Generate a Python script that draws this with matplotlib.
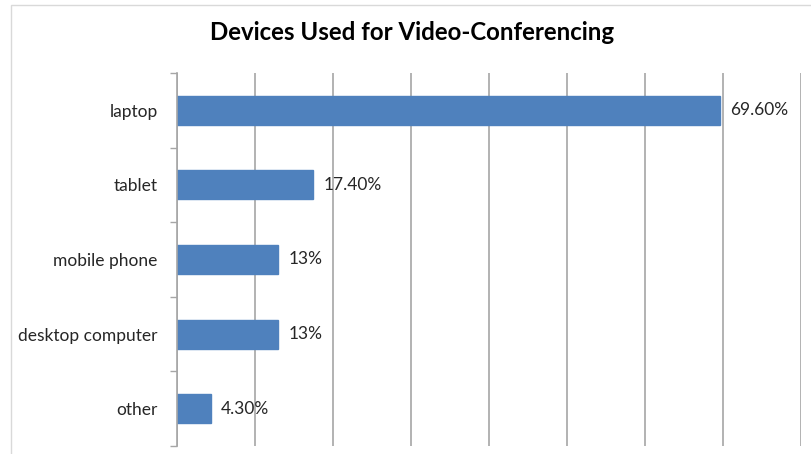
import matplotlib
matplotlib.use("Agg")
import matplotlib.pyplot as plt
from matplotlib.patches import Rectangle

categories = ["laptop", "tablet", "mobile phone", "desktop computer", "other"]
values = [69.6, 17.4, 13.0, 13.0, 4.3]
value_labels = ["69.60%", "17.40%", "13%", "13%", "4.30%"]
title = "Devices Used for Video-Conferencing"

plt.rcParams['font.family'] = ['Lato', 'DejaVu Sans']

W, H = 811, 454
fig = plt.figure(figsize=(W / 100, H / 100), dpi=100)
fig.patch.set_facecolor("white")

# outer chart border
fig.patches.append(Rectangle((11 / W, -0.05), 1.2, (1 - 5 / H) + 0.05,
                             transform=fig.transFigure, fill=False,
                             edgecolor="#d9d9d9", linewidth=1.0))

ax = fig.add_axes([177 / W, 1 - 446 / H, (801 - 177) / W, (446 - 73) / H])
n = len(categories)
pos = list(range(n))
ax.barh(pos, values, height=0.39, color="#4F81BD", edgecolor="#4F81BD", zorder=3)
ax.set_ylim(n - 0.5, -0.5)
ax.set_xlim(0, 80)
ax.set_yticks(pos)
ax.set_yticklabels(categories, fontsize=12.5, color="#262626")
ax.set_yticks([i - 0.5 for i in range(n + 1)], minor=True)
ax.tick_params(axis="y", which="major", length=0, pad=14)
ax.tick_params(axis="y", which="minor", length=5, color="#a6a6a6", width=1)
ax.set_xticks(range(0, 81, 10))
ax.tick_params(axis="x", length=0, labelbottom=False)
ax.grid(axis="x", color="#a6a6a6", linewidth=1.2, zorder=0)
for s in ["top", "right", "bottom"]:
    ax.spines[s].set_visible(False)
ax.spines["left"].set_color("#a6a6a6")
ax.spines["left"].set_linewidth(1.2)
ax.spines["left"].set_zorder(4)

for p, v, lab in zip(pos, values, value_labels):
    ax.annotate(lab, (v, p), xytext=(7.5, 0), textcoords="offset points",
                va="center", ha="left", fontsize=12.5, color="#262626")

fig.text(0.508, 1 - 33 / H, title, ha="center", va="center",
         fontsize=17.3, fontweight="bold", color="#000000")

fig.savefig("out.png", dpi=100)
